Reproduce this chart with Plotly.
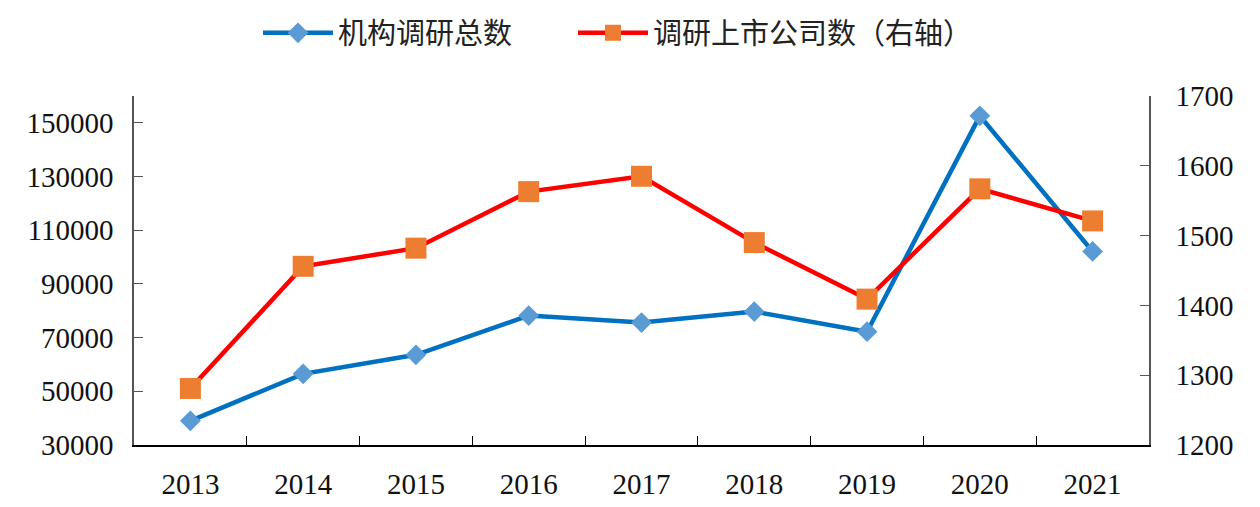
import plotly.graph_objects as go

years = ["2013", "2014", "2015", "2016", "2017", "2018", "2019", "2020", "2021"]
research_total = [39000, 56500, 63600, 78200, 75600, 79700, 72200, 152600, 102100]
companies = [1281, 1456, 1482, 1563, 1585, 1490, 1409, 1567, 1521]
left_ticks = [30000, 50000, 70000, 90000, 110000, 130000, 150000]
right_ticks = [1200, 1300, 1400, 1500, 1600, 1700]

serif = "Liberation Serif, Times New Roman, serif"
cjk = "Noto Sans CJK SC, sans-serif"

fig = go.Figure()
fig.add_trace(go.Scatter(
    x=years, y=research_total, name="机构调研总数", mode="lines+markers",
    line=dict(color="#0070C0", width=4.5),
    marker=dict(symbol="diamond", size=16, color="#5B9BD5"),
    legend="legend",
))
fig.add_trace(go.Scatter(
    x=years, y=companies, name="调研上市公司数（右轴）", mode="lines+markers",
    yaxis="y2",
    line=dict(color="#FF0000", width=4.5),
    marker=dict(symbol="square", size=21, color="#ED7D31"),
    legend="legend2",
))

tick_font = dict(family=serif, size=29, color="#111")
legend_common = dict(orientation="h", xanchor="left", yanchor="middle", xref="container",
                     yref="container", y=0.95, font=dict(family=cjk, size=29, color="#222"),
                     itemwidth=70, bgcolor="rgba(0,0,0,0)")
fig.update_layout(
    width=1252, height=499,
    margin=dict(l=126, r=111, t=88, b=62),
    paper_bgcolor="white", plot_bgcolor="white",
    showlegend=True,
    legend=dict(x=250 / 1252, **legend_common),
    legend2=dict(x=565 / 1252, **legend_common),
    xaxis=dict(type="category", range=[-0.5, 8.5], showline=True, linecolor="#000",
               linewidth=1.5, ticks="inside", tickson="boundaries", ticklen=9,
               tickcolor="#000", showgrid=False, zeroline=False, automargin=False,
               ticklabelstandoff=12, tickfont=tick_font),
    yaxis=dict(range=[30000, 160000], tickvals=left_ticks, tickformat="d", showline=True,
               linecolor="#555", linewidth=1.5, ticks="inside", ticklen=9,
               tickcolor="#555", showgrid=False, zeroline=False, automargin=False,
               ticklabelstandoff=13, tickfont=tick_font),
    yaxis2=dict(range=[1200, 1700], tickvals=right_ticks, overlaying="y", side="right",
                showline=True, linecolor="#555", linewidth=1.5, ticks="inside", ticklen=9,
                tickcolor="#555", showgrid=False, zeroline=False, automargin=False,
                ticklabelstandoff=19, tickfont=tick_font),
)

fig.write_html("out.html")
